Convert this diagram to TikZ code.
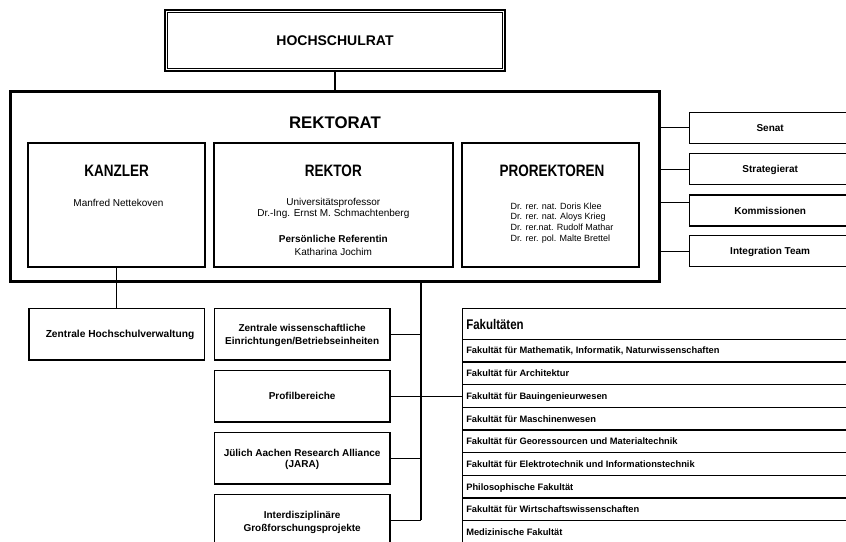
\documentclass[tikz,border=0pt]{standalone}
\usepackage{fontspec}
\setmainfont{Liberation Sans}
\newfontfamily\narrowfont[FakeStretch=0.82]{Liberation Sans}
\newcommand{\myfs}[1]{\fontsize{#1}{#1}\selectfont}
\begin{document}
\begin{tikzpicture}[x=1pt,y=-1pt,
  every node/.style={inner sep=0pt, outer sep=0pt},
  hrbox/.style={draw, line width=2pt},
  rkbox/.style={draw, line width=2.8pt},
  subbox/.style={draw, line width=2pt, minimum height=124pt},
  sidebox/.style={draw, line width=1.3pt, minimum width=161.7pt, minimum height=31pt,
     font=\bfseries\myfs{10}, text height=7.2pt, text depth=0pt},
  colbox/.style={draw, line width=1.4pt, minimum width=175.7pt, minimum height=51.5pt,
     font=\bfseries\myfs{10}, text height=7.2pt, text depth=0pt},
  conn/.style={line width=1.2pt},
  spine/.style={line width=2pt},
  headtxt/.style={font=\narrowfont\bfseries\myfs{16.5}, anchor=base},
  bodytxt/.style={font=\myfs{10}, anchor=base},
  boldtxt/.style={font=\bfseries\myfs{10}, anchor=base},
  nametxt/.style={font=\myfs{9}, anchor=base west},
  rowtxt/.style={font=\bfseries\myfs{9.3}, anchor=west, text height=6.7pt, text depth=0pt}]

\fill[white] (0,0) rectangle (846,541);
\useasboundingbox (0,0) rectangle (846,541);

% Hochschulrat
\node[hrbox, minimum width=339.4pt, minimum height=60.8pt,
      font=\bfseries\myfs{14}, text height=10pt, text depth=0pt] (hr) at (335,40.4) {HOCHSCHULRAT};
\draw[line width=0.9pt] ([shift={(2.5pt,-2.5pt)}]hr.north west) rectangle ([shift={(-2.5pt,2.5pt)}]hr.south east);

% Rektorat
\node[rkbox, minimum width=648.6pt, minimum height=190pt] (rk) at (335,186.5) {};
\node[font=\bfseries\myfs{16.8}, anchor=base] (rkT) at (335,128.7) {REKTORAT};

\node[subbox, minimum width=176.7pt] (kz) at (116.65,205.3) {};
\node[subbox, minimum width=238.7pt] (rt) at (333.35,205.3) {};
\node[subbox, minimum width=177.6pt] (pr) at (550.5,205.3) {};

\node[headtxt] (kzT) at (116.65,176.7) {KANZLER};
\node[bodytxt] (kz1) at (118.5,206.3) {Manfred Nettekoven};

\node[headtxt] (rtT) at (333.35,176.7) {REKTOR};
\node[bodytxt] (rt1) at (333.35,205.9) {Universitätsprofessor};
\node[bodytxt] (rt2) at (333.35,216.9) {Dr.-Ing. Ernst M. Schmachtenberg};
\node[boldtxt] (rt3) at (333.35,242.9) {Persönliche Referentin};
\node[bodytxt] (rt4) at (333.35,255.3) {Katharina Jochim};

\node[headtxt] (prT) at (552,176.7) {PROREKTOREN};
\node[nametxt] (pr1) at (510.7,209.2) {Dr. rer. nat. Doris Klee};
\node[nametxt] (pr2) at (510.7,219.9) {Dr. rer. nat. Aloys Krieg};
\node[nametxt] (pr3) at (510.7,230.6) {Dr. rer.nat. Rudolf Mathar};
\node[nametxt] (pr4) at (510.7,241.3) {Dr. rer. pol. Malte Brettel};

% side boxes
\node[sidebox] (se) at (770.15,127.8) {Senat};
\node[sidebox] (st) at (770.15,169.2) {Strategierat};
\node[sidebox] (km) at (770.15,210.5) {Kommissionen};
\node[sidebox] (it) at (770.15,251.2) {Integration Team};
\coordinate (kmin) at ([yshift=8.2pt]km.west);

\draw[conn] (rk.east |- se.west) -- (se.west);
\draw[conn] (rk.east |- st.west) -- (st.west);
\draw[conn] (rk.east |- kmin) -- (kmin);
\draw[conn] (rk.east |- it.west) -- (it.west);

\draw[conn] (hr.south) -- (rk.north);

% lower left
\node[draw, line width=1.4pt, minimum width=175.3pt, minimum height=51.7pt] (zhv) at (116.65,334.15) {};
\node[font=\bfseries\myfs{10.2}, text height=7.3pt, text depth=0pt] (zhvT) at (120,334.15) {Zentrale Hochschulverwaltung};
\draw[conn] (kz.south) -- (zhv.north);

\node[colbox] (c1) at (302.15,334.2) {};
\node[colbox] (c2) at (302.15,396.2) {Profilbereiche};
\node[colbox] (c3) at (302.15,458.4) {};
\node[colbox] (c4) at (302.15,520.4) {};

\node[boldtxt] (c1a) at (302.15,331.9) {Zentrale wissenschaftliche};
\node[boldtxt] (c1b) at (302.15,344.6) {Einrichtungen/Betriebseinheiten};
\node[boldtxt] (c3a) at (302.15,456.3) {Jülich Aachen Research Alliance};
\node[boldtxt] (c3b) at (302.15,467.6) {(JARA)};
\node[boldtxt] (c4a) at (302.15,518.6) {Interdisziplinäre};
\node[boldtxt] (c4b) at (302.15,531.9) {Großforschungsprojekte};

% Fakultaeten
\node[draw, line width=1.4pt, minimum width=388.3pt, minimum height=236pt] (fak) at (656.85,426.3) {};
\node[font=\narrowfont\bfseries\myfs{14}, anchor=base west] (fakT) at (466.3,329) {Fakultäten};
\foreach \k in {0,...,8} {
  \draw[line width=1.3pt] (fak.west |- 0,{339.3+22.67*\k}) -- (fak.east |- 0,{339.3+22.67*\k});
}
\foreach \t [count=\i] in {{Fakultät für Mathematik, Informatik, Naturwissenschaften},
   {Fakultät für Architektur}, {Fakultät für Bauingenieurwesen},
   {Fakultät für Maschinenwesen}, {Fakultät für Georessourcen und Materialtechnik},
   {Fakultät für Elektrotechnik und Informationstechnik}, {Philosophische Fakultät},
   {Fakultät für Wirtschaftswissenschaften}, {Medizinische Fakultät}} {
  \node[rowtxt] (row\i) at (466.3,{339.3+22.67*\i-11.33}) {\t};
}

% spine and connectors
\coordinate (sptop) at (420.7,281.5);
\draw[spine] (sptop) -- (sptop |- c4.east);
\draw[conn] (c1.east) -- (c1.east -| sptop);
\draw[conn] (c2.east) -- (c2.east -| fak.west);
\draw[conn] (c3.east) -- (c3.east -| sptop);
\draw[conn] (c4.east) -- (c4.east -| sptop);
\end{tikzpicture}
\end{document}
